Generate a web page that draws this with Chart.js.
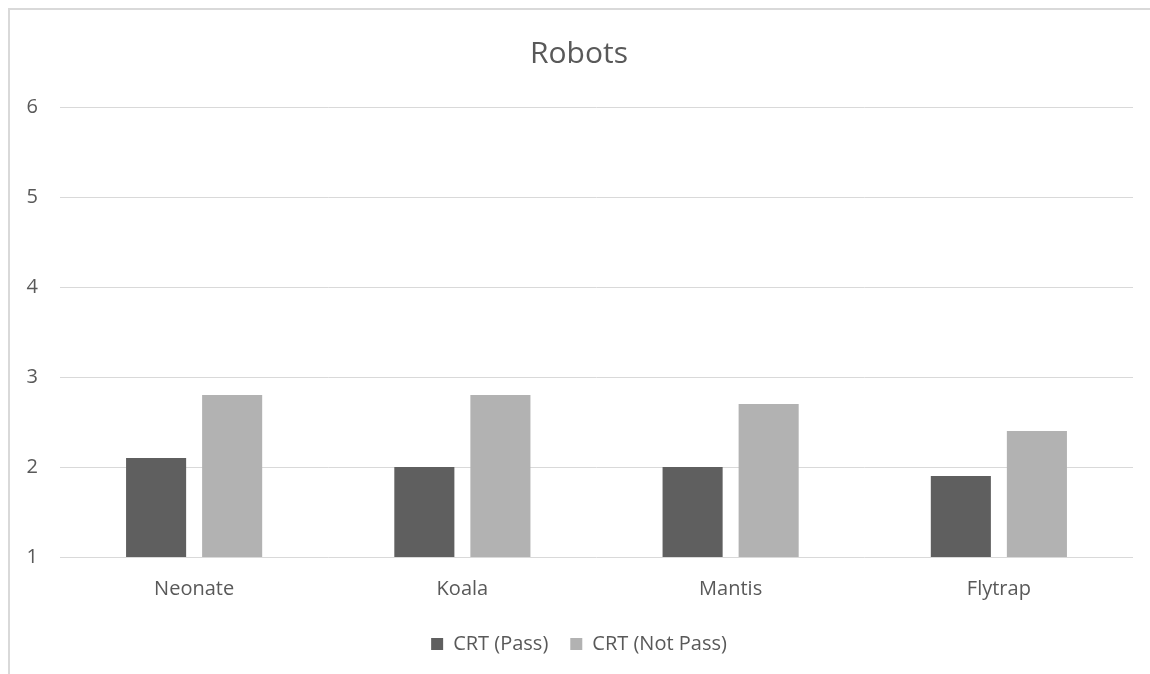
<!DOCTYPE html>
<html>
<head>
<meta charset="utf-8">
<script src="https://cdn.jsdelivr.net/npm/chart.js@4.4.0/dist/chart.umd.min.js"></script>
<style>
  html, body { margin: 0; padding: 0; background: #fff; overflow: hidden; }
  #frame { position: absolute; left: 8px; top: 8px; width: 2000px; height: 2000px;
           border-left: 2px solid #d9d9d9; border-top: 2px solid #d9d9d9; }
  #robotsChart { position: absolute; left: 0; top: 0; }
</style>
</head>
<body>
<div id="frame"></div>
<canvas id="robotsChart" width="1150" height="674"></canvas>
<script>
const robots = ["Neonate", "Koala", "Mantis", "Flytrap"];
const crtPass = [2.1, 2.0, 2.0, 1.9];
const crtNotPass = [2.8, 2.8, 2.7, 2.4];
const yMin = 1, yMax = 6, yStep = 1;

const textColor = "#595959";
Chart.defaults.font.family = "'Open Sans', sans-serif";
Chart.defaults.color = textColor;

new Chart(document.getElementById("robotsChart"), {
    type: "bar",
    data: {
        labels: robots,
        datasets: [{
            label: "CRT (Pass)",
            data: crtPass,
            backgroundColor: "#5f5f5f"
        }, {
            label: "CRT (Not Pass)",
            data: crtNotPass,
            backgroundColor: "#b2b2b2"
        }]
    },
    options: {
        responsive: false,
        animation: false,
        barPercentage: 0.79,
        categoryPercentage: 0.567,
        layout: { padding: { left: 25, right: 17, top: 10, bottom: 10 } },
        plugins: {
            title: {
                display: true,
                text: "Robots",
                color: textColor,
                font: { size: 30, weight: "normal" },
                padding: { top: 26, bottom: 35 }
            },
            legend: {
                position: "bottom",
                labels: {
                    boxWidth: 12,
                    boxHeight: 12,
                    padding: 22,
                    color: textColor,
                    font: { size: 20 }
                }
            },
            tooltip: { enabled: false }
        },
        scales: {
            x: {
                grid: { display: false, drawTicks: false },
                border: { display: false },
                ticks: { padding: 20, font: { size: 20 }, color: textColor },
                afterFit: s => { s.height = 55; }
            },
            y: {
                min: yMin,
                max: yMax,
                grid: { color: "#d9d9d9", drawTicks: false },
                border: { display: false },
                ticks: { stepSize: yStep, padding: 22, font: { size: 20 }, color: textColor },
                // labels are clipped to the axis box, so keep it wide enough
                afterFit: s => { s.width = 35; }
            }
        }
    }
});
</script>
</body>
</html>
